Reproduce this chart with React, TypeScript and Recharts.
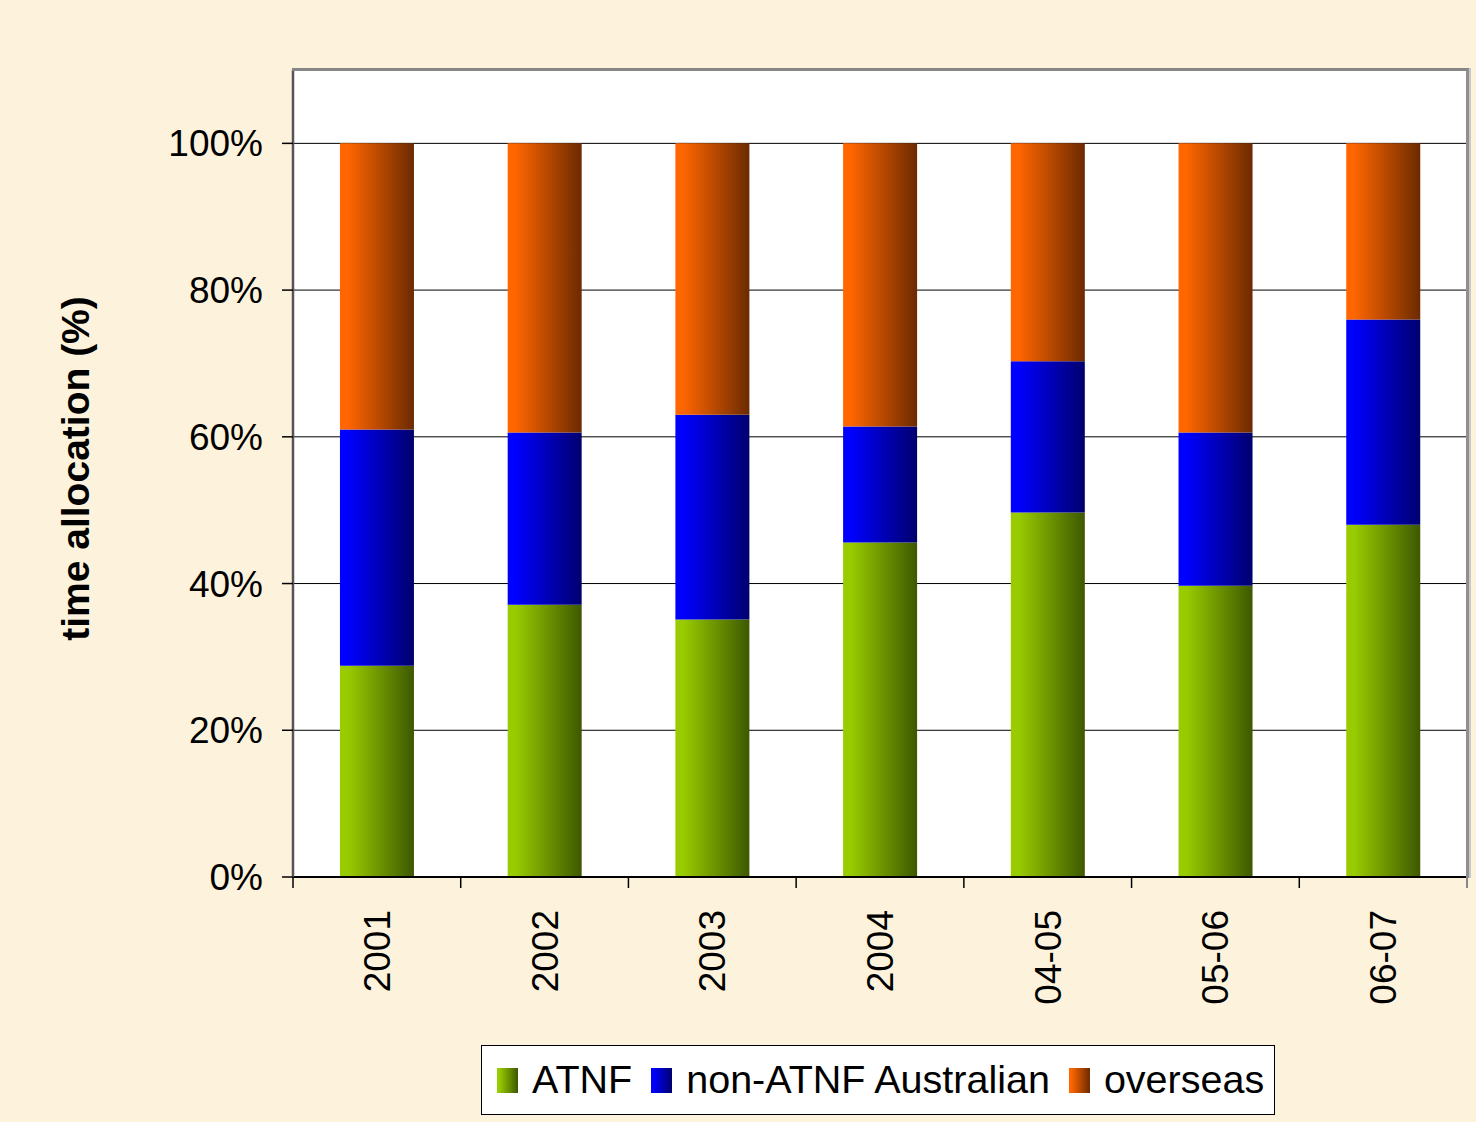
import { BarChart, Bar, XAxis, YAxis, CartesianGrid, Label } from "recharts"

if (typeof document !== "undefined") document.body.style.margin = "0"

const periods = ["2001", "2002", "2003", "2004", "04-05", "05-06", "06-07"]
const atnf = [28.8, 37.1, 35.1, 45.6, 49.7, 39.7, 48.0]
const nonAtnf = [32.2, 23.5, 27.9, 15.8, 20.6, 20.9, 28.0]
const overseas = [39.0, 39.4, 37.0, 38.6, 29.7, 39.4, 24.0]
const yTicks = [0, 20, 40, 60, 80, 100]

const W = 1476
const H = 1122
const xAxisHeight = 245
const margin = { top: 70, right: 9, bottom: 0, left: 0 }
const yAxisWidth = 293
const plotLeft = margin.left + yAxisWidth
const plotRight = W - margin.right
const plotTop = margin.top
const plotBottom = H - margin.bottom - xAxisHeight
const band = (plotRight - plotLeft) / periods.length

const FONT = '"Liberation Sans", Arial, Helvetica, sans-serif'

const series = [
  { key: "atnf", name: "ATNF", from: "#99CC00", to: "#3D5800" },
  { key: "nonAtnf", name: "non-ATNF Australian", from: "#0000FF", to: "#00006E" },
  { key: "overseas", name: "overseas", from: "#FF6600", to: "#6C2A00" },
]

const data = periods.map((p, i) => ({
  period: p,
  atnf: atnf[i],
  nonAtnf: nonAtnf[i],
  overseas: overseas[i],
}))

function XTick(props: any) {
  const { x, payload, index } = props
  const left = x - band / 2
  return (
    <g>
      <line x1={left} y1={plotBottom} x2={left} y2={plotBottom + 11} stroke="#000" strokeWidth={1.5} />
      {index === periods.length - 1 && (
        <line x1={x + band / 2} y1={plotBottom} x2={x + band / 2} y2={plotBottom + 11} stroke="#888" strokeWidth={2} />
      )}
      <text
        x={0}
        y={0}
        transform={`translate(${x + 13},${plotBottom + 33}) rotate(-90)`}
        textAnchor="end"
        fontFamily={FONT}
        fontSize={37}
        fill="#000"
      >
        {payload.value}
      </text>
    </g>
  )
}

function LegendBox() {
  return (
    <div
      style={{
        position: "absolute",
        left: 481,
        top: 1045,
        width: 794,
        height: 70,
        boxSizing: "border-box",
        border: "1px solid #000",
        background: "#fff",
        display: "flex",
        alignItems: "center",
        paddingLeft: 15,
        fontFamily: FONT,
        fontSize: 39.5,
        color: "#000",
        whiteSpace: "nowrap",
        overflow: "hidden",
      }}
    >
      {series.map((s) => (
        <div key={s.key} style={{ display: "flex", alignItems: "center", marginRight: 19, flexShrink: 0 }}>
          <span
            style={{
              display: "inline-block",
              width: 21,
              height: 25,
              marginRight: 14,
              flexShrink: 0,
              background: `linear-gradient(to right, ${s.from} 10%, ${s.to})`,
            }}
          />
          <span style={{ lineHeight: 1 }}>{s.name}</span>
        </div>
      ))}
    </div>
  )
}

export default function App() {
  return (
    <div style={{ position: "relative", width: W, height: H, background: "#FDF3DC" }}>
      <BarChart width={W} height={H} data={data} margin={margin} barCategoryGap="28%">
        <defs>
          {series.map((s) => (
            <linearGradient key={s.key} id={`grad-${s.key}`} x1="0" y1="0" x2="1" y2="0">
              <stop offset="0%" stopColor={s.from} />
              <stop offset="10%" stopColor={s.from} />
              <stop offset="100%" stopColor={s.to} />
            </linearGradient>
          ))}
        </defs>
        <CartesianGrid vertical={false} stroke="#000" strokeWidth={1} fill="#fff" fillOpacity={1} />
        <XAxis
          dataKey="period"
          interval={0}
          tickLine={false}
          axisLine={{ stroke: "#000", strokeWidth: 2 }}
          tick={<XTick />}
          height={xAxisHeight}
        />
        <YAxis
          width={yAxisWidth}
          domain={[0, 110]}
          ticks={yTicks}
          allowDataOverflow
          tickFormatter={(v) => `${v}%`}
          tick={{ fontFamily: FONT, fontSize: 37, fill: "#000" }}
          tickSize={11}
          tickMargin={19}
          tickLine={{ stroke: "#000", strokeWidth: 1.5 }}
          axisLine={{ stroke: "#555", strokeWidth: 2.5 }}
        >
          <Label
            content={(p: any) => {
              const vb = p.viewBox || {}
              const cy = (vb.y ?? plotTop) + (vb.height ?? plotBottom - plotTop) / 2 - 5
              return (
                <text
                  x={0}
                  y={0}
                  transform={`translate(89,${cy}) rotate(-90)`}
                  textAnchor="middle"
                  fontFamily={FONT}
                  fontWeight="bold"
                  fontSize={39}
                  fill="#000"
                >
                  time allocation (%)
                </text>
              )
            }}
          />
        </YAxis>
        {series.map((s) => (
          <Bar
            key={s.key}
            dataKey={s.key}
            name={s.name}
            stackId="a"
            fill={`url(#grad-${s.key})`}
            isAnimationActive={false}
          />
        ))}
      </BarChart>
      <LegendBox />
      <div
        style={{
          position: "absolute",
          left: plotLeft - 1,
          top: plotTop - 2,
          width: plotRight - plotLeft,
          height: plotBottom - plotTop,
          borderTop: "3px solid #868686",
          borderRight: "3px solid #8f8f8f",
          boxShadow: "2px 0 0 #c8c8c8",
          pointerEvents: "none",
        }}
      />
    </div>
  )
}
